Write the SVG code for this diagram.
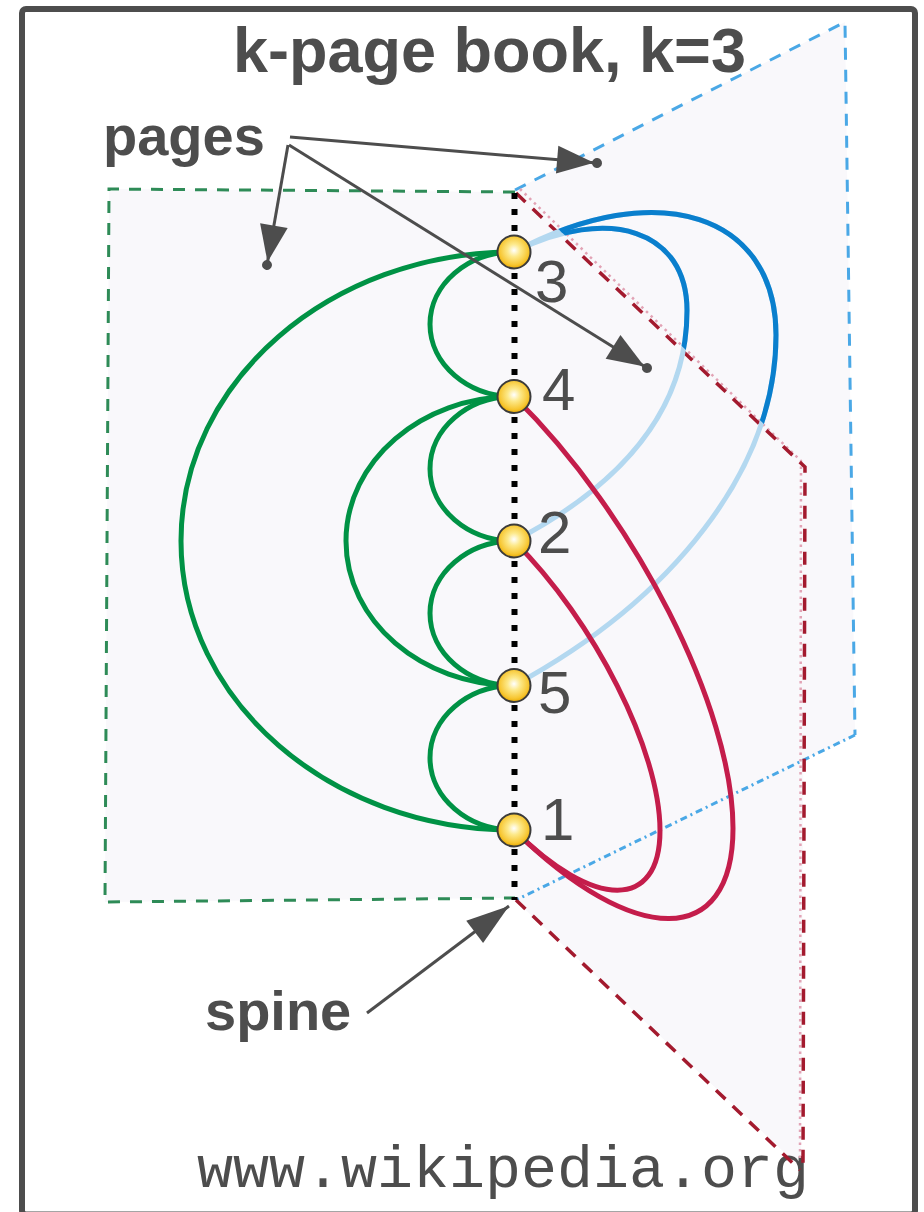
<svg xmlns="http://www.w3.org/2000/svg" width="924" height="1212" viewBox="0 0 924 1212">
  <defs>
    <style>
      .page { fill: #f9f8fb; stroke: none; }
      .edge-g { fill: none; stroke: #2e8b57; stroke-width: 3; stroke-dasharray: 12 10; }
      .edge-b { fill: none; stroke: #4aa8e6; stroke-width: 3; stroke-dasharray: 12 10; }
      .edge-bd { fill: none; stroke: #4aa8e6; stroke-width: 3; stroke-dasharray: 7 4 2 4; }
      .edge-r { fill: none; stroke: #a31a2e; stroke-width: 3.5; stroke-dasharray: 13 10; }
      .edge-p { fill: none; stroke: #e2a3b5; stroke-width: 2.5; stroke-dasharray: 2.5 4; }
      .arc { fill: none; stroke-width: 5; stroke-linecap: round; }
      .arc-g { stroke: #009245; }
      .arc-bl { stroke: #b3d8f0; }
      .arc-b { stroke: #0a7fcd; }
      .arc-r { stroke: #c41d4b; }
      .spine { stroke: #000; stroke-width: 6; stroke-dasharray: 6 10; }
      .ball { fill: url(#ball); stroke: #3b3b3b; stroke-width: 2; }
      .lbl { font-family: "Liberation Sans", Arial, Helvetica, sans-serif; fill: #4d4d4d; font-size: 60px; }
      .bold { font-family: "Liberation Sans", Arial, Helvetica, sans-serif; fill: #4d4d4d; font-weight: bold; }
      .mono { font-family: "Liberation Mono", "Courier New", monospace; fill: #4d4d4d; font-size: 60px; }
      .ptr { fill: none; stroke: #4d4d4d; stroke-width: 3; }
    </style>
    <radialGradient id="ball" cx="0.5" cy="0.45" r="0.55" fx="0.5" fy="0.45">
      <stop offset="0" stop-color="#ffffff"/>
      <stop offset="0.35" stop-color="#fde98a"/>
      <stop offset="0.8" stop-color="#f7c631"/>
      <stop offset="1" stop-color="#e8a800"/>
    </radialGradient>
    <marker id="headDot" markerUnits="userSpaceOnUse" orient="auto" overflow="visible" refX="0" refY="0" markerWidth="1" markerHeight="1">
      <path d="M-3,0 L-40,-14 L-40,14 Z" fill="#4d4d4d"/>
      <circle cx="0" cy="0" r="5" fill="#4d4d4d"/>
    </marker>
    <marker id="head" markerUnits="userSpaceOnUse" orient="auto" overflow="visible" refX="0" refY="0" markerWidth="1" markerHeight="1">
      <path d="M0,0 L-43,-14 L-43,14 Z" fill="#4d4d4d"/>
    </marker>
    <!-- part of the back page not hidden by the front page -->
    <clipPath id="backVisible">
      <polygon points="514,0 924,0 924,463 805,463 515,188"/>
    </clipPath>
  </defs>

  <rect width="924" height="1212" fill="#ffffff"/>
  <rect x="22" y="9" width="893" height="1205.5" rx="4" fill="none" stroke="#4d4d4d" stroke-width="6"/>

  <text class="bold" x="233" y="72" font-size="63">k-page book, k=3</text>

  <!-- page fills -->
  <g id="pages">
    <polygon class="page" points="515,190 845,22 855,735 515,900"/>
    <polygon class="page" points="109,189 515,192 515,898 105,902"/>
    <polygon class="page" points="515,192 805,467 801,1168 515,900"/>
  </g>

  <text class="mono" x="197" y="1187">www.wikipedia.org</text>

  <!-- page borders -->
  <g id="page-edges">
    <polyline class="edge-g" points="515,192 109,189 105,902 515,898"/>
    <polyline class="edge-b" points="515,190 845,22 855,735"/>
    <line class="edge-bd" x1="855" y1="735" x2="516" y2="900"/>
    <polyline class="edge-p" points="520,189 801,461 800,1160"/>
    <polyline class="edge-r" points="516,193 805,467 803,1165"/>
    <line class="edge-r" x1="516" y1="900" x2="800" y2="1170"/>
  </g>

  <g id="connectors">
    <!-- page 1: green arcs -->
    <path class="arc arc-g" d="M514,252 C467.6,252 430,284.35 430,324.25 C430,364.15 467.6,396.5 514,396.5"/>
    <path class="arc arc-g" d="M514,396.5 C467.6,396.5 430,428.85 430,468.75 C430,508.65 467.6,541 514,541"/>
    <path class="arc arc-g" d="M514,541 C467.6,541 430,573.35 430,613.25 C430,653.15 467.6,685.5 514,685.5"/>
    <path class="arc arc-g" d="M514,685.5 C467.6,685.5 430,717.85 430,757.75 C430,797.65 467.6,830 514,830"/>
    <path class="arc arc-g" d="M514,396.5 C421.2,396.5 346,461.2 346,541 C346,620.8 421.2,685.5 514,685.5"/>
    <path class="arc arc-g" d="M514,252 C330.1,252 181,381.4 181,541 C181,700.6 330.1,830 514,830"/>

    <!-- page 2: blue arcs, faded where seen through page 3 -->
    <path class="arc arc-bl" d="M514,252 C609.5,204.5 687,230.7 687,310.5 C687,400 635,478 514,541"/>
    <path class="arc arc-bl" d="M514,252 C658.7,174.7 776,215 776,335 C776,470 672,600 514,685.5"/>
    <g clip-path="url(#backVisible)">
      <path class="arc arc-b" d="M514,252 C609.5,204.5 687,230.7 687,310.5 C687,400 635,478 514,541"/>
      <path class="arc arc-b" d="M514,252 C658.7,174.7 776,215 776,335 C776,470 672,600 514,685.5"/>
    </g>

    <!-- page 3: red arcs -->
    <path class="arc arc-r" d="M514,396.5 C635,515.2 733,708.5 733,828.25 C733,948 635,948.7 514,830"/>
    <path class="arc arc-r" d="M514,541 C594.6,621.1 660,750.7 660,830.5 C660,910.3 594.6,910.1 514,830"/>
  </g>

  <line id="spine" class="spine" x1="514.5" y1="193" x2="514.5" y2="900"/>

  <g id="node-3"><circle class="ball" cx="514" cy="252" r="16.5"/><text class="lbl" x="535" y="302">3</text></g>
  <g id="node-4"><circle class="ball" cx="514" cy="396.5" r="16.5"/><text class="lbl" x="542" y="410">4</text></g>
  <g id="node-2"><circle class="ball" cx="514" cy="541" r="16.5"/><text class="lbl" x="538" y="553">2</text></g>
  <g id="node-5"><circle class="ball" cx="514" cy="685.5" r="16.5"/><text class="lbl" x="538" y="713">5</text></g>
  <g id="node-1"><circle class="ball" cx="514" cy="830" r="16.5"/><text class="lbl" x="541" y="840">1</text></g>

  <g id="callouts">
    <text class="bold" x="103" y="155" font-size="56">pages</text>
    <line class="ptr" x1="290" y1="137" x2="597" y2="163" marker-end="url(#headDot)"/>
    <line class="ptr" x1="288" y1="145" x2="267" y2="265" marker-end="url(#headDot)"/>
    <line class="ptr" x1="289" y1="145" x2="647" y2="368" marker-end="url(#headDot)"/>
    <text class="bold" x="205" y="1030" font-size="56">spine</text>
    <line class="ptr" x1="367" y1="1013" x2="509" y2="906" marker-end="url(#head)"/>
  </g>
</svg>
